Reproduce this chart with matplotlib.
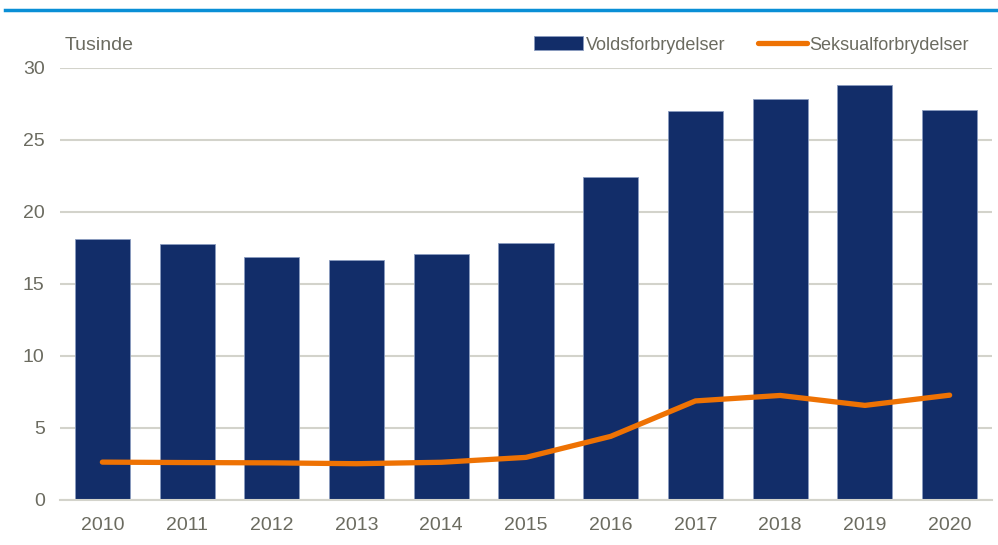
#!/usr/bin/env python3

import matplotlib

matplotlib.use("Agg")

import matplotlib.pyplot as plt
from matplotlib.lines import Line2D
from matplotlib.patches import Patch

years = ["2010", "2011", "2012", "2013", "2014", "2015", "2016", "2017", "2018", "2019", "2020"]
vold = [18.1, 17.8, 16.85, 16.65, 17.05, 17.85, 22.4, 27.0, 27.85, 28.8, 27.1]
seksual = [2.63, 2.6, 2.58, 2.52, 2.62, 2.96, 4.42, 6.88, 7.26, 6.57, 7.28]
y_ticks = [0, 5, 10, 15, 20, 25, 30]

BAR = "#122d69"
ORANGE = "#ee7203"
GRID = "#d3d3cb"
TEXT = "#6b6b60"

plt.rcParams["font.family"] = ["Liberation Sans Narrow", "Liberation Sans", "DejaVu Sans"]

fig = plt.figure(figsize=(9.98, 5.45), dpi=100)
ax = fig.add_axes([60 / 998, 45 / 545, 932 / 998, 432 / 545])

x = range(len(years))
ax.bar(x, vold, width=0.65, color=BAR, edgecolor="#8a9cc0", linewidth=0.6, zorder=2)
ax.plot(x, seksual, color=ORANGE, linewidth=3.8, solid_capstyle="round", zorder=3)

ax.set_xlim(-0.5, len(years) - 0.5)
ax.set_ylim(0, 30)
ax.set_yticks(y_ticks)
ax.set_xticks(list(x))
ax.set_xticklabels(years)
ax.yaxis.grid(True, color=GRID, linewidth=1.5, zorder=0)
ax.set_axisbelow(True)
for side in ("top", "right", "left"):
    ax.spines[side].set_visible(False)
ax.spines["bottom"].set_color(GRID)
ax.spines["bottom"].set_linewidth(1.5)
ax.tick_params(length=0, labelsize=14, colors=TEXT, pad=12)
ax.tick_params(axis="y", pad=11)

fig.text(65 / 998, 1 - 46 / 545, "Tusinde", fontsize=14, color=TEXT, va="center", ha="left")

handles = [
    Patch(facecolor=BAR, edgecolor="#8a9cc0", linewidth=0.6),
    Line2D([0], [0], color=ORANGE, linewidth=3.8, solid_capstyle="round"),
]
fig.legend(handles, ["Voldsforbrydelser", "Seksualforbrydelser"], loc="center right",
           bbox_to_anchor=(985 / 998, 1 - 45 / 545), ncol=2, frameon=False, fontsize=13,
           labelcolor=TEXT, handlelength=2.7, handleheight=0.8, handletextpad=0.15,
           columnspacing=1.8)

fig.add_artist(Line2D([5 / 998, 1.0], [1 - 10 / 545, 1 - 10 / 545], color="#0a8fd6",
                      linewidth=2.5, transform=fig.transFigure))

fig.savefig("out.png", dpi=100)
